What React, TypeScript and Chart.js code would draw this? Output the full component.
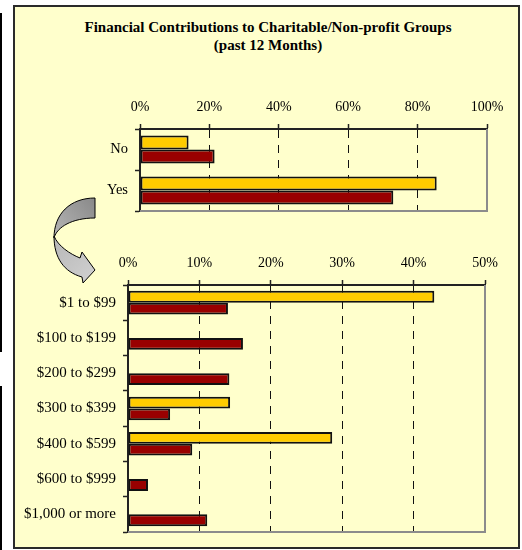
import React, { useEffect, useRef } from "react";
import { Chart, registerables } from "chart.js";

Chart.register(...registerables);

// ---------- data ----------
const topCategories = ["No", "Yes"];
const topSeriesA = [14, 85.5]; // yellow
const topSeriesB = [21.5, 73]; // dark red
const topAxisMax = 100;
const topAxisStep = 20;

const bottomCategories = [
  "$1 to $99",
  "$100 to $199",
  "$200 to $299",
  "$300 to $399",
  "$400 to $599",
  "$600 to $999",
  "$1,000 or more",
];
const bottomSeriesA: (number | null)[] = [42.9, null, null, 14.3, 28.6, null, null];
const bottomSeriesB = [14.0, 16.1, 14.2, 5.9, 9.0, 2.8, 11.1];
const bottomAxisMax = 50;
const bottomAxisStep = 10;

const titleLines = [
  "Financial Contributions to Charitable/Non-profit Groups",
  "(past 12 Months)",
];

// ---------- style ----------
const W = 522;
const H = 550;
const SERIF = "'Liberation Serif', 'Times New Roman', serif";
const YELLOW = "#FFCC00";
const RED = "#990000";

const framePlugin = {
  id: "frame",
  beforeDatasetsDraw(chart: any) {
    const { ctx, chartArea: a } = chart;
    ctx.save();
    ctx.strokeStyle = "#8c8c8c";
    ctx.lineWidth = 2;
    ctx.beginPath();
    ctx.moveTo(a.left, a.bottom);
    ctx.lineTo(a.right, a.bottom);
    ctx.lineTo(a.right, a.top);
    ctx.stroke();
    ctx.restore();
  },
};

const arrowPlugin = {
  id: "arrow",
  afterDraw(chart: any) {
    const ctx = chart.ctx;
    ctx.save();
    ctx.lineWidth = 1;
    ctx.strokeStyle = "#000";
    // upper (dark) band
    let g = ctx.createLinearGradient(95, 200, 55, 235);
    g.addColorStop(0, "#8a8a8a");
    g.addColorStop(1, "#b4b4b4");
    ctx.fillStyle = g;
    ctx.beginPath();
    ctx.moveTo(95, 198);
    ctx.bezierCurveTo(70, 198, 54, 214, 54, 238);
    ctx.bezierCurveTo(57, 227, 72, 218, 95, 218);
    ctx.closePath();
    ctx.fill();
    ctx.stroke();
    // lower (light) band with head
    g = ctx.createLinearGradient(55, 238, 95, 280);
    g.addColorStop(0, "#b8b8b8");
    g.addColorStop(1, "#d0d0d0");
    ctx.fillStyle = g;
    ctx.beginPath();
    ctx.moveTo(54, 236);
    ctx.bezierCurveTo(54, 258, 64, 272, 82, 277);
    ctx.lineTo(83, 283);
    ctx.lineTo(95, 270);
    ctx.lineTo(82, 252);
    ctx.lineTo(80, 258);
    ctx.bezierCurveTo(70, 254, 58, 246, 54, 236);
    ctx.closePath();
    ctx.fill();
    ctx.stroke();
    ctx.restore();
  },
};

type Area = { left: number; top: number; right: number; bottom: number };

function makeConfig(
  labels: string[],
  a: (number | null)[],
  b: (number | null)[],
  max: number,
  step: number,
  area: Area,
  yFont: number,
  catPct: number,
  extra: any[]
): any {
  const ds = (data: (number | null)[], color: string) => ({
    data,
    backgroundColor: color,
    borderColor: "#111",
    borderWidth: 2,
    borderSkipped: false,
    barPercentage: 1,
    categoryPercentage: catPct,
  });
  return {
    type: "bar",
    data: { labels, datasets: [ds(a, YELLOW), ds(b, RED)] },
    options: {
      indexAxis: "y",
      responsive: false,
      animation: false,
      events: [],
      layout: {
        padding: { left: 0, top: 0, right: W - area.right, bottom: H - area.bottom },
      },
      plugins: {
        legend: { display: false },
        tooltip: { enabled: false },
        title: { display: false },
      },
      scales: {
        x: {
          position: "top",
          min: 0,
          max,
          ticks: {
            stepSize: step,
            callback: (v: any) => v + "%",
            color: "#000",
            font: { family: SERIF, size: 14 },
            padding: 8,
            maxRotation: 0,
            autoSkip: false,
          },
          grid: {
            color: (c: any) =>
              c.tick && (c.tick.value === 0 || c.tick.value === max) ? "rgba(0,0,0,0)" : "#111",
            tickColor: "#222",
            tickLength: 5,
            lineWidth: 1,
            tickWidth: 1.5,
          },
          border: { display: true, color: "#222", width: 2, dash: [8, 7] },
          afterFit: (s: any) => {
            s.height = area.top;
          },
        },
        y: {
          ticks: { color: "#000", font: { family: SERIF, size: yFont }, padding: 7, autoSkip: false },
          grid: {
            drawOnChartArea: false,
            offset: true,
            tickLength: 5,
            tickColor: "#222",
            color: "#222",
            tickWidth: 1.5,
          },
          border: { color: "#222", width: 2 },
          afterFit: (s: any) => {
            s.width = area.left;
          },
        },
      },
    },
    plugins: [framePlugin, ...extra],
  };
}

function ChartCanvas({ config }: { config: () => any }) {
  const ref = useRef<HTMLCanvasElement | null>(null);
  useEffect(() => {
    if (!ref.current) return;
    const c = new Chart(ref.current, config());
    return () => c.destroy();
  }, []);
  return (
    <canvas
      ref={ref}
      width={W}
      height={H}
      style={{ position: "absolute", left: 0, top: 0, width: W, height: H }}
    />
  );
}

export default function App() {
  return (
    <div
      style={{
        position: "absolute",
        left: 0,
        top: 0,
        width: W,
        height: H,
        background: "#ffffff",
        overflow: "hidden",
      }}
    >
      <div style={{ position: "absolute", left: 0, top: 13, width: 2, height: 339, background: "#000" }} />
      <div style={{ position: "absolute", left: 0, top: 386, width: 2, height: 164, background: "#000" }} />
      <div
        style={{
          position: "absolute",
          left: 13,
          top: 5,
          width: 503,
          height: 540,
          border: "2px solid #2a2a2a",
          background: "#FFFFCC",
        }}
      />
      <div
        style={{
          position: "absolute",
          left: 14,
          top: 17.5,
          width: 508,
          textAlign: "center",
          fontFamily: SERIF,
          fontWeight: "bold",
          fontSize: 15,
          lineHeight: "18px",
          color: "#000",
        }}
      >
        {titleLines.map((t, i) => (
          <div key={i}>{t}</div>
        ))}
      </div>
      <ChartCanvas
        config={() =>
          makeConfig(
            topCategories,
            topSeriesA,
            topSeriesB,
            topAxisMax,
            topAxisStep,
            { left: 140, top: 129, right: 487, bottom: 211 },
            14.5,
            0.68,
            [arrowPlugin]
          )
        }
      />
      <ChartCanvas
        config={() =>
          makeConfig(
            bottomCategories,
            bottomSeriesA,
            bottomSeriesB,
            bottomAxisMax,
            bottomAxisStep,
            { left: 128, top: 285, right: 485, bottom: 532 },
            15,
            0.67,
            []
          )
        }
      />
    </div>
  );
}
